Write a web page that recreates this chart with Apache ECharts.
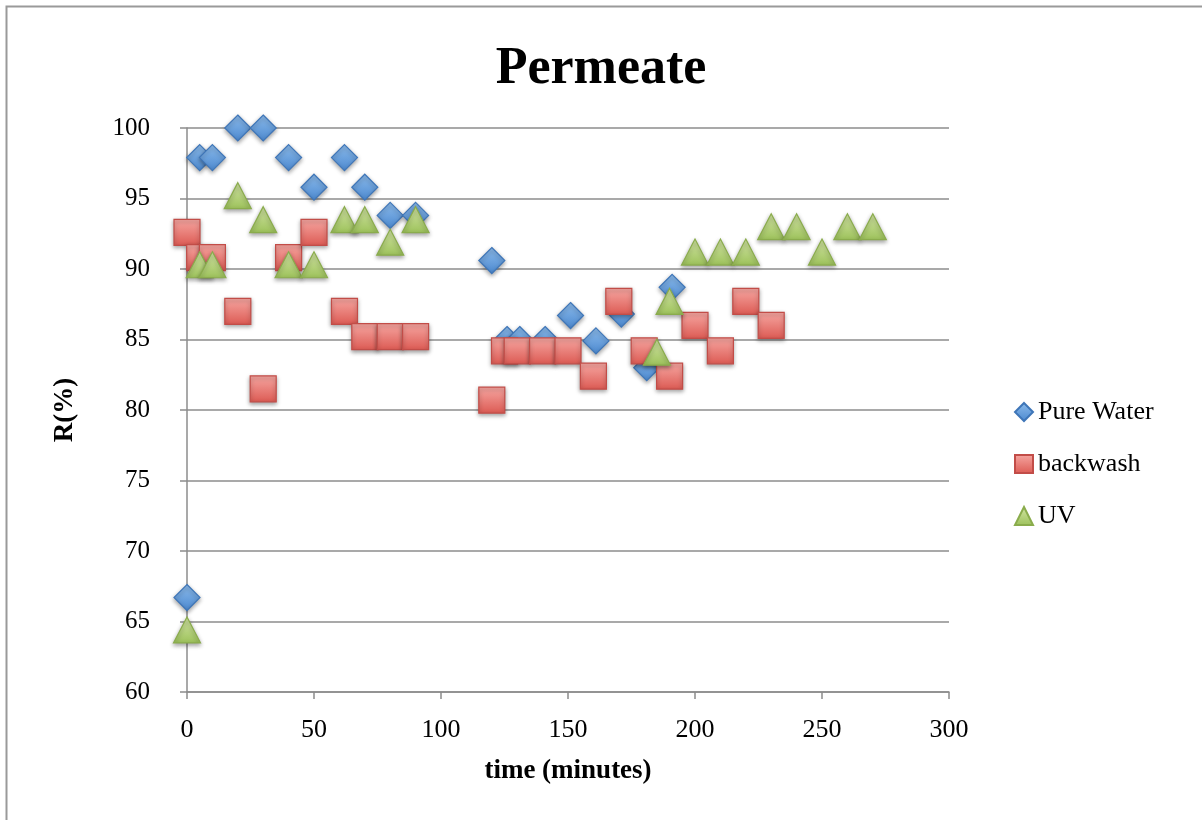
<!DOCTYPE html>
<html>
<head>
<meta charset="utf-8">
<script src="https://cdn.jsdelivr.net/npm/echarts@6/dist/echarts.min.js"></script>
<style>
  html, body { margin: 0; padding: 0; background: #fff; }
  #chart { width: 1202px; height: 820px; }
</style>
</head>
<body>
<div id="chart"></div>
<script>
// data: [time, R%]
const pureWater = [
  [0, 66.7], [5, 97.9], [10, 97.9], [20, 100], [30, 100], [40, 97.9],
  [50, 95.8], [62, 97.9], [70, 95.8], [80, 93.8], [90, 93.8],
  [120, 90.6], [126, 85.0], [131, 85.0], [141, 85.0], [151, 86.7],
  [161, 84.9], [171, 86.8], [181, 83.0], [191, 88.7]
]
const backwash = [
  [0, 92.6], [5, 90.8], [10, 90.8], [20, 87.0], [30, 81.5], [40, 90.8],
  [50, 92.6], [62, 87.0], [70, 85.2], [80, 85.2], [90, 85.2],
  [120, 80.7], [125, 84.2], [130, 84.2], [140, 84.2], [150, 84.2],
  [160, 82.4], [170, 87.7], [180, 84.2], [190, 82.4], [200, 86.0],
  [210, 84.2], [220, 87.7], [230, 86.0]
]
const uv = [
  [0, 64.4], [5, 90.3], [10, 90.3], [20, 95.2], [30, 93.5], [40, 90.3],
  [50, 90.3], [62, 93.5], [70, 93.5], [80, 91.9], [90, 93.5],
  [185, 84.1], [190, 87.7], [200, 91.2], [210, 91.2], [220, 91.2],
  [230, 93.0], [240, 93.0], [250, 91.2], [260, 93.0], [270, 93.0]
]

const serif = '"Liberation Serif", "DejaVu Serif", serif'

function grad (top, bottom) {
  return new echarts.graphic.LinearGradient(0, 0, 0, 1, [
    { offset: 0, color: top },
    { offset: 1, color: bottom }
  ])
}

function markerSeries (name, data, symbol, size, top, bottom, border) {
  return {
    name: name,
    type: 'scatter',
    data: data,
    symbol: symbol,
    symbolSize: size,
    itemStyle: {
      color: grad(top, bottom),
      borderColor: border,
      borderWidth: 1.2,
      shadowColor: 'rgba(0,0,0,0.35)',
      shadowBlur: 4,
      shadowOffsetY: 2,
      opacity: 1
    },
    emphasis: { disabled: true }
  }
}

const chart = echarts.init(document.getElementById('chart'), null, { renderer: 'canvas' })

chart.setOption({
  backgroundColor: '#fff',
  animation: false,
  graphic: [{
    type: 'rect',
    shape: { x: 6.5, y: 6.5, width: 1300, height: 900 },
    style: { fill: 'none', stroke: '#9a9a9a', lineWidth: 2 },
    silent: true
  }],
  title: {
    text: 'Permeate',
    left: 'center',
    top: 39,
    textStyle: { fontFamily: serif, fontWeight: 'bold', fontSize: 52, color: '#000' }
  },
  legend: {
    orient: 'vertical',
    left: 1009,
    top: 394,
    itemGap: 26,
    itemWidth: 18,
    itemHeight: 18,
    textStyle: { fontFamily: serif, fontSize: 26, lineHeight: 26, color: '#000', padding: [0, 0, 0, 0] },
    data: ['Pure Water', 'backwash', 'UV']
  },
  grid: { left: 187, top: 128, right: 253, bottom: 128 },
  xAxis: {
    type: 'value',
    min: 0,
    max: 300,
    interval: 50,
    name: 'time (minutes)',
    nameLocation: 'middle',
    nameGap: 66,
    nameTextStyle: { fontFamily: serif, fontWeight: 'bold', fontSize: 27, color: '#000' },
    axisLine: { show: true, lineStyle: { color: '#8c8c8c', width: 1.5 } },
    axisTick: { show: true, length: 7, lineStyle: { color: '#8c8c8c', width: 1.5 } },
    axisLabel: { fontFamily: serif, fontSize: 26, color: '#000', margin: 25 },
    splitLine: { show: false }
  },
  yAxis: {
    type: 'value',
    min: 60,
    max: 100,
    interval: 5,
    name: 'R(%)',
    nameLocation: 'middle',
    nameGap: 108,
    nameRotate: 90,
    nameTextStyle: { fontFamily: serif, fontWeight: 'bold', fontSize: 27, color: '#000' },
    axisLine: { show: true, lineStyle: { color: '#8c8c8c', width: 1.5 } },
    axisTick: { show: true, length: 7, lineStyle: { color: '#8c8c8c', width: 1.5 } },
    axisLabel: { fontFamily: serif, fontSize: 25, color: '#000', margin: 37 },
    splitLine: { show: true, lineStyle: { color: '#8c8c8c', width: 1.5 } }
  },
  series: [
    markerSeries('Pure Water', pureWater, 'diamond', 26, '#8dbcec', '#4b88cf', '#3f76b8'),
    markerSeries('backwash', backwash, 'rect', 26, '#f6a7a2', '#dc5a53', '#c24d48'),
    markerSeries('UV', uv, 'triangle', [27, 26], '#d4e6a6', '#9cc15a', '#8aac4c')
  ]
})
</script>
</body>
</html>
